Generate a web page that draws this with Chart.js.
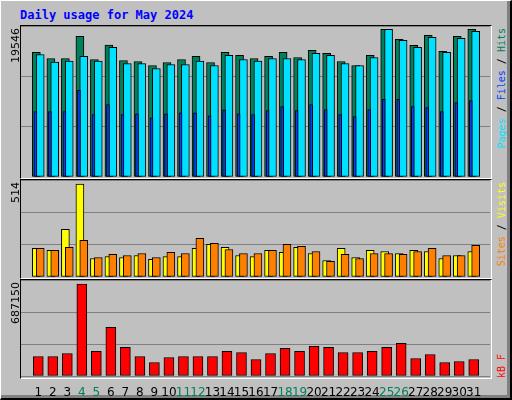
<!DOCTYPE html>
<html>
<head>
<meta charset="utf-8">
<script src="https://cdn.jsdelivr.net/npm/chart.js@4"></script>
<style>
  html, body { margin: 0; padding: 0; background: #c0c0c0; }
  #frame {
    position: absolute; left: 0; top: 0; width: 509px; height: 397px;
    background: #c0c0c0;
    border-top: 1px solid #fff; border-left: 1px solid #fff;
    border-right: 2px solid #000; border-bottom: 2px solid #000;
    box-shadow: inset -3px -3px 0 #808080;
  }
  .panel {
    position: absolute; left: 20px; width: 470px;
    border-top: 1px solid #000; border-left: 1px solid #000;
    border-right: 1px solid #fff; border-bottom: 1px solid #fff;
  }
  .panel canvas { position: absolute; left: 0; top: 0; }
  #title {
    position: absolute; left: 20px; top: 8px; color: #0000ff;
    font: bold 12px "DejaVu Sans Mono", monospace;
  }
  .vlab {
    position: absolute; writing-mode: vertical-rl; transform: rotate(180deg);
    font: 10px "DejaVu Sans Mono", monospace; white-space: nowrap;
  }
  .vnum { font: 11px "DejaVu Sans", sans-serif; color: #000; }
</style>
</head>
<body>
<div id="frame"></div>
<div id="title">Daily usage for May 2024</div>

<div class="panel" style="top:25px;height:152px"><canvas id="c1"></canvas></div>
<div class="panel" style="top:179px;height:98px"><canvas id="c2"></canvas></div>
<div class="panel" style="top:279px;height:98px"></div>
<canvas id="c3" style="position:absolute;left:21px;top:280px"></canvas>

<div class="vlab vnum" style="left:9px;top:28px">19546</div>
<div class="vlab vnum" style="left:9px;top:182px">514</div>
<div class="vlab vnum" style="left:9px;top:282px">687150</div>

<div class="vlab" style="left:496px;top:28px"><span style="color:#00e0ff">Pages</span> / <span style="color:#0040ff">Files</span> / <span style="color:#00805c">Hits</span></div>
<div class="vlab" style="left:496px;top:182px"><span style="color:#ff8000">Sites</span> / <span style="color:#ffff00">Visits</span></div>
<div class="vlab" style="left:496px;top:354px"><span style="color:#ff0000">kB F</span></div>

<script>
const days = [1,2,3,4,5,6,7,8,9,10,11,12,13,14,15,16,17,18,19,20,21,22,23,24,25,26,27,28,29,30,31];
const weekends = [4,5,11,12,18,19,25,26];

const hits = [16480,15680,15680,18610,15550,17450,15410,15280,14750,15150,15550,15950,15150,16480,16080,15680,
              15950,16480,15810,16750,16350,15280,14750,16080,19546,18210,17410,18740,16610,18610,19546];
const files = [16210,15190,15320,15950,15320,17140,15010,15010,14350,14880,14880,15320,14750,16080,15550,15320,
               15680,15680,15550,16350,16080,15010,14750,15810,19546,18080,17140,18480,16480,18340,19280];
const pages = [8660,8660,8660,11460,8260,9590,8260,8350,7820,8350,8490,8490,8090,8880,8350,8260,
               8790,9320,8790,9590,8920,8260,7990,8920,10260,10260,9320,9190,8660,9860,10120];
const visits = [158,147,264,514,102,113,108,119,97,113,113,158,180,164,119,113,
                147,136,164,130,91,158,108,147,141,130,147,141,102,119,141];
const sites = [158,147,164,202,108,125,119,130,108,136,130,214,186,152,130,130,
               147,180,169,141,86,125,102,130,130,125,141,158,119,119,175];
const kbytes = [145850,145850,168400,687150,183440,363870,213510,145850,100740,138330,145850,145850,145850,183440,175920,123300,
                168400,205990,183440,221030,213510,175920,175920,183440,213510,243580,130810,160890,100740,108260,123300];

const DAY_PX = 15;

function pts(values, shiftPx) {
  return values.map((v, i) => ({ x: days[i] + shiftPx / DAY_PX, y: v }));
}

function ds(values, shiftPx, width, color, order) {
  return {
    data: pts(values, shiftPx), backgroundColor: color, borderColor: '#000',
    borderWidth: 1, barThickness: width, grouped: false, order: order, borderSkipped: false
  };
}

function makeChart(id, w, h, datasets, max, showX) {
  const cv = document.getElementById(id);
  cv.width = w; cv.height = h;
  cv.style.width = w + 'px'; cv.style.height = h + 'px';
  return new Chart(cv, {
    type: 'bar',
    data: { datasets: datasets },
    options: {
      responsive: false, animation: false,
      layout: { padding: 0 },
      plugins: { legend: { display: false }, tooltip: { enabled: false } },
      scales: {
        x: {
          type: 'linear', min: 0.33, max: 31.6,
          display: showX,
          grid: { display: false }, border: { display: false },
          afterBuildTicks: s => { s.ticks = days.map(d => ({ value: d })); },
          afterFit: s => {
            s.height = showX ? 21 : 0;
            s.paddingLeft = 0; s.paddingRight = 0;
          },
          ticks: {
            autoSkip: false, maxRotation: 0, minRotation: 0, padding: 2,
            font: { family: 'DejaVu Sans', size: 12 },
            color: c => weekends.includes(c.tick.value) ? '#00805c' : '#000',
            callback: v => String(v)
          }
        },
        y: {
          min: 0, max: max,
          afterFit: s => { s.width = 0; },
          ticks: { display: false, stepSize: max / 3 },
          grid: { color: '#808080', lineWidth: 1, drawTicks: false },
          border: { display: false }
        }
      }
    }
  });
}

makeChart('c1', 469, 151, [
  ds(pages, -3, 3, '#0040ff', 1),
  ds(files, 2, 8, '#00e0ff', 2),
  ds(hits, -2, 8, '#00805c', 3)
], 19546 * 1.022, false);

makeChart('c2', 469, 97, [
  ds(sites, 2, 8, '#ff8000', 1),
  ds(visits, -2, 8, '#ffff00', 2)
], 514 * 1.043, false);

makeChart('c3', 469, 117, [
  ds(kbytes, 0, 10, '#ff0000', 1)
], 687150 * 1.044, true);
</script>
</body>
</html>
